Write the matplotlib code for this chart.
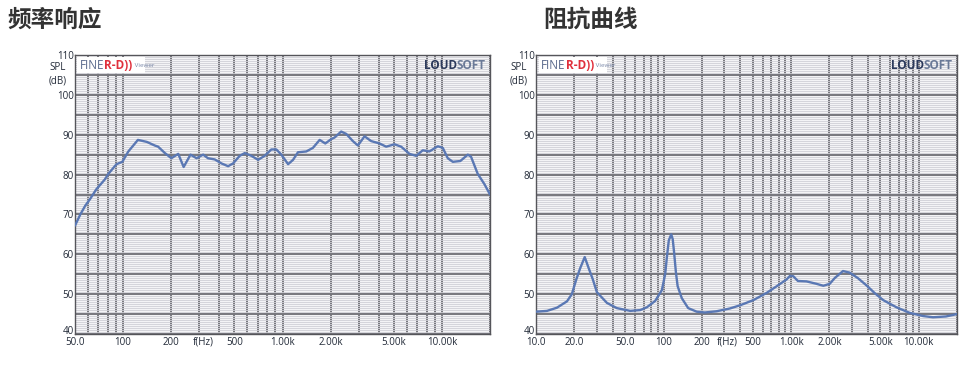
import matplotlib
matplotlib.use("Agg")
import matplotlib.pyplot as plt
from matplotlib.patches import Rectangle

plt.rcParams['font.family'] = ['Open Sans', 'DejaVu Sans']

# frequency response (SPL dB vs Hz)
fr_freq = [50, 54, 58, 62, 68, 77, 81, 91, 99, 108, 124, 141, 158, 166, 183,
           201, 222, 240, 265, 289, 318, 341, 376, 414, 456, 490, 539, 580,
           638, 703, 773, 851, 915, 984, 1084, 1165, 1250, 1410, 1552, 1710,
           1855, 2022, 2122, 2333, 2510, 2762, 2970, 3268, 3597, 4060, 4466,
           5037, 5544, 6250, 6886, 7580, 8337, 9416, 10115, 10867, 11687,
           13025, 14520, 15200, 16744, 18450, 20000]
fr_spl = [67.2, 70.0, 72.2, 73.8, 76.3, 78.8, 80.2, 82.6, 83.2, 85.8, 88.7,
          88.2, 87.3, 87.0, 85.4, 84.1, 85.2, 81.9, 85.0, 84.1, 85.0, 84.1,
          83.8, 82.8, 82.1, 82.8, 84.7, 85.4, 84.7, 83.7, 84.7, 86.3, 86.3,
          85.0, 82.6, 83.7, 85.6, 85.8, 86.7, 88.7, 87.8, 88.9, 89.3, 90.8,
          90.2, 88.4, 87.3, 89.6, 88.4, 87.8, 87.0, 87.6, 87.0, 85.2, 84.7,
          86.1, 85.8, 87.1, 86.7, 84.1, 83.2, 83.4, 85.0, 84.5, 80.2, 77.6,
          75.0]

# impedance curve
imp_freq = [10, 12.2, 14.6, 17.5, 19.1, 20.7, 22.2, 24.1, 25.9, 27.9, 30,
            36, 43, 54.8, 65.6, 74, 86, 97, 103, 106, 110, 114.9, 118, 121,
            125, 129, 139, 156, 182, 211, 260, 331, 398, 506, 642, 773, 923,
            982, 1040, 1131, 1321, 1578, 1791, 2011, 2194, 2554, 2880, 3347,
            3902, 4548, 5281, 6704, 8521, 10860, 12970, 16400, 20000]
imp_val = [45.6, 45.8, 46.6, 48.2, 50.0, 53.7, 56.5, 59.3, 56.5, 53.7, 50.5,
           47.8, 46.5, 45.8, 46.0, 46.7, 48.3, 51.0, 55.0, 59.0, 63.5, 65.0,
           63.8, 60.5, 55.5, 52.0, 49.0, 46.5, 45.6, 45.4, 45.7, 46.4, 47.2,
           48.5, 50.3, 52.0, 53.7, 54.6, 54.5, 53.3, 53.2, 52.6, 52.1, 52.6,
           54.0, 55.8, 55.4, 54.0, 52.2, 50.2, 48.5, 46.7, 45.3, 44.5, 44.2,
           44.4, 45.0]

fr_labels = {50: "50.0", 100: "100", 200: "200", 500: "500", 1000: "1.00k",
             2000: "2.00k", 5000: "5.00k", 10000: "10.00k"}
imp_labels = {10: "10.0", 20: "20.0", 50: "50.0", 100: "100", 200: "200",
              500: "500", 1000: "1.00k", 2000: "2.00k", 5000: "5.00k",
              10000: "10.00k"}

LINE = "#5a78b4"
TXT = "#222a38"
GRID = "#77777d"


def draw_panel(ax, freq, vals, fmin, labels):
    ax.set_facecolor("#f4f4f6")
    ax.plot(freq, vals, color=LINE, lw=1.7, zorder=5, solid_capstyle="round")
    ax.set_xscale("log")
    ax.set_xlim(fmin, 20000)
    ax.set_ylim(40, 110)

    xt = [m * 10 ** d for d in range(1, 5) for m in range(1, 10)]
    xt = [x for x in xt if fmin <= x <= 20000]
    ax.set_xticks(xt, [labels.get(x, "") for x in xt])
    ax.xaxis.set_minor_locator(plt.NullLocator())
    yt = list(range(40, 111, 5))
    ax.set_yticks(yt, [str(y) if y % 10 == 0 else "" for y in yt])
    ax.set_yticks([y / 2 for y in range(80, 221)], minor=True)

    ax.grid(True, which="major", color=GRID, lw=1.4, zorder=1)
    ax.grid(True, which="minor", axis="y", color="#d0d0d6", lw=0.6, zorder=0)
    ax.tick_params(which="both", length=0, labelsize=7, labelcolor=TXT)
    ax.tick_params(axis="x", pad=2)
    ax.tick_params(axis="y", pad=1)
    ax.get_yticklabels()[0].set_verticalalignment("baseline")
    for s in ax.spines.values():
        s.set_color("#55555a")
        s.set_linewidth(1.0)

    ax.text(318, -0.01, "f(Hz)", transform=ax.get_xaxis_transform(),
            ha="center", va="top", fontsize=7, color=TXT)

    # FINE R-D)) Viewer badge
    ax.add_patch(Rectangle((0.006, 0.935), 0.162, 0.058, transform=ax.transAxes,
                           facecolor="white", edgecolor="none", zorder=6))
    t1 = ax.text(0.012, 0.962, "FINE", transform=ax.transAxes, fontsize=8.5,
                 color="#5a6a8c", va="center", zorder=7)
    t2 = ax.annotate("R-D))", xy=(1, 0.5), xycoords=t1, va="center",
                     fontsize=8.5, color="#e0303c", fontweight="bold", zorder=7)
    ax.annotate(" Viewer", xy=(1, 0.5), xycoords=t2, va="center",
                fontsize=4.5, color="#7a88a8", zorder=7)

    # LOUDSOFT badge
    t3 = ax.text(0.99, 0.962, "SOFT", transform=ax.transAxes, fontsize=8.5,
                 color="#6b7a98", fontweight="bold", va="center", ha="right",
                 zorder=7)
    ax.annotate("LOUD", xy=(0, 0.5), xycoords=t3, va="center", ha="right",
                fontsize=8.5, color="#2c3a5c", fontweight="bold", zorder=7)


fig = plt.figure(figsize=(9.77, 3.67), dpi=100)
ax1 = fig.add_axes([75 / 977, 33 / 367, 415 / 977, 279 / 367])
ax2 = fig.add_axes([536 / 977, 33 / 367, 421 / 977, 279 / 367])

draw_panel(ax1, fr_freq, fr_spl, 50, fr_labels)
draw_panel(ax2, imp_freq, imp_val, 10, imp_labels)

title_font = ['Noto Sans CJK SC', 'DejaVu Sans']
fig.text(7 / 977, 1 - 20 / 367, "频率响应", family=title_font, fontsize=17,
         fontweight="bold", color="#333333", va="center", ha="left")
fig.text(543 / 977, 1 - 20 / 367, "阻抗曲线", family=title_font, fontsize=17,
         fontweight="bold", color="#333333", va="center", ha="left")

for xpx in (58, 519):
    fig.text(xpx / 977, 1 - 74.5 / 367, "SPL\n(dB)", fontsize=7, color=TXT,
             ha="center", va="center", linespacing=1.3)

fig.savefig("out.png", dpi=100)
